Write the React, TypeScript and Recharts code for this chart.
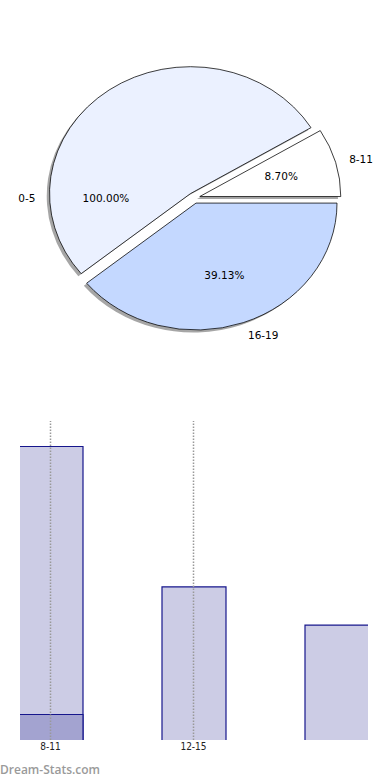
import React from 'react';
import { PieChart, Pie, Cell, BarChart, Bar, XAxis, YAxis, ReferenceLine } from 'recharts';

// ---- pie data ----
const pieCategories = ['8-11', '0-5', '16-19'];
const pieValues = [2, 12, 9];
const piePercentLabels = ['8.70%', '100.00%', '39.13%'];
const pieColors = ['#ffffff', '#ebf1ff', '#c4d8ff'];

// ---- bar data ----
const barCategories = ['8-11', '12-15', '16-19'];
const barTotals = [23, 12, 9];
const barHighlight = [2, 0, 0];
const barTickLabels = ['8-11', '12-15'];
const barDomain: [number, number] = [0, 25];

// ---- rendering config ----
const CX = 194;
const CY = 198;
const R = 141;
const SY = 0.9;
const EXPLODE = 6;
const SHADOW_DX = -2.8;
const SHADOW_DY = 2.8;
const LABEL_ANGLE_OVERRIDE: Record<string, number> = { '0-5': 180 };
const RAD = Math.PI / 180;

const pieData = pieCategories.map((name, i) => ({ name, value: pieValues[i] }));
const total = pieValues.reduce((a, b) => a + b, 0);
const mids: number[] = [];
{
  let acc = 0;
  pieValues.forEach((v) => {
    const start = (acc / total) * 360;
    acc += v;
    const end = (acc / total) * 360;
    mids.push((start + end) / 2);
  });
}
const centers = mids.map((m) => ({
  x: CX + EXPLODE * Math.cos(m * RAD),
  y: CY - EXPLODE * Math.sin(m * RAD),
}));

const barData = barCategories.map((cat, i) => ({
  cat,
  total: barTotals[i],
  highlight: barHighlight[i],
}));

const pieFont = '"DejaVu Sans", sans-serif';

function makeLabel(i: number) {
  return (props: any) => {
    if (props.index !== i) return null;
    const name = pieCategories[i];
    const overridden = LABEL_ANGLE_OVERRIDE[name] !== undefined;
    const a = (overridden ? LABEL_ANGLE_OVERRIDE[name] : mids[i]) * RAD;
    const c = centers[i];
    const baseY = overridden ? CY : c.y;
    const lx = c.x + 1.1 * R * Math.cos(a);
    const ly = baseY - 1.1 * R * Math.sin(a);
    const px = c.x + 0.6 * R * Math.cos(a);
    const py = baseY - 0.6 * R * Math.sin(a);
    const anchor = Math.cos(a) >= 0 ? 'start' : 'end';
    return (
      <g>
        <text
          x={0}
          y={0}
          transform={`translate(${lx} ${ly}) scale(1 ${1 / SY})`}
          textAnchor={anchor}
          dominantBaseline="central"
          fontSize={10.5}
          fontFamily={pieFont}
          fill="#000"
        >
          {name}
        </text>
        <text
          x={0}
          y={0}
          transform={`translate(${px} ${py}) scale(1 ${1 / SY})`}
          textAnchor="middle"
          dominantBaseline="central"
          fontSize={10.5}
          fontFamily={pieFont}
          fill="#000"
        >
          {piePercentLabels[i]}
        </text>
      </g>
    );
  };
}

function BarShape(props: any) {
  const { x, y, width, height, fill } = props;
  if (!height || height <= 0) return null;
  return (
    <g>
      <rect x={x} y={y} width={width} height={height} fill={fill} stroke="none" />
      <path
        d={`M${x},${y + height}V${y}H${x + width}V${y + height}`}
        fill="none"
        stroke="#16168c"
        strokeWidth={1.2}
      />
    </g>
  );
}

function BarTick(props: any) {
  const { x, y, payload } = props;
  if (!barTickLabels.includes(payload.value)) return null;
  return (
    <text
      x={x}
      y={y}
      dy="0.71em"
      textAnchor="middle"
      fontSize={10}
      fontFamily='"Liberation Sans Narrow", "DejaVu Sans Condensed", sans-serif'
      fill="#222"
    >
      {payload.value}
    </text>
  );
}

export default function App() {
  return (
    <div style={{ position: 'absolute', left: 0, top: 0, width: 390, height: 780, background: '#fff', overflow: 'hidden' }}>
      <div
        style={{
          position: 'absolute',
          left: 0,
          top: 0,
          width: 390,
          height: 400,
          transform: `scaleY(${SY})`,
          transformOrigin: `${CX}px ${CY}px`,
        }}
      >
        <PieChart width={390} height={400} margin={{ top: 0, right: 0, bottom: 0, left: 0 }}>
          {pieData.map((_, i) => (
            <Pie
              key={`shadow-${i}`}
              data={pieData}
              dataKey="value"
              nameKey="name"
              cx={centers[i].x + SHADOW_DX}
              cy={centers[i].y + SHADOW_DY}
              outerRadius={R}
              innerRadius={0}
              startAngle={0}
              endAngle={360}
              isAnimationActive={false}
              labelLine={false}
              label={false}
            >
              {pieData.map((__, j) => (
                <Cell
                  key={j}
                  fill={j === i ? '#4d4d4d' : 'none'}
                  fillOpacity={0.5}
                  stroke="none"
                />
              ))}
            </Pie>
          ))}
          {pieData.map((_, i) => (
            <Pie
              key={`slice-${i}`}
              data={pieData}
              dataKey="value"
              nameKey="name"
              cx={centers[i].x}
              cy={centers[i].y}
              outerRadius={R}
              innerRadius={0}
              startAngle={0}
              endAngle={360}
              isAnimationActive={false}
              labelLine={false}
              label={makeLabel(i)}
            >
              {pieData.map((__, j) => (
                <Cell
                  key={j}
                  fill={j === i ? pieColors[j] : 'none'}
                  stroke={j === i ? '#000' : 'none'}
                  strokeWidth={0.8}
                />
              ))}
            </Pie>
          ))}
        </PieChart>
      </div>

      <div style={{ position: 'absolute', left: 20, top: 400, width: 348, height: 362, overflow: 'hidden' }}>
        <div style={{ position: 'absolute', left: -41, top: 0 }}>
          <BarChart
            width={429}
            height={370}
            data={barData}
            margin={{ top: 21, right: 0, bottom: 0, left: 0 }}
            barGap={-64}
            barCategoryGap={0}
          >
            <XAxis
              dataKey="cat"
              axisLine={false}
              tickLine={false}
              tickSize={0}
              tickMargin={3}
              height={30}
              interval={0}
              tick={<BarTick />}
            />
            <YAxis hide domain={barDomain} type="number" allowDataOverflow />
            <Bar dataKey="total" barSize={64} fill="#ccccE5" shape={<BarShape />} isAnimationActive={false} />
            <Bar dataKey="highlight" barSize={64} fill="#a3a3d0" shape={<BarShape />} isAnimationActive={false} />
            {barTickLabels.map((c) => (
              <ReferenceLine key={c} x={c} stroke="#999999" strokeWidth={1.5} strokeDasharray="1.5 1.5" />
            ))}
          </BarChart>
        </div>
      </div>

      <div
        style={{
          position: 'absolute',
          left: 0,
          top: 762,
          fontFamily: '"Open Sans", sans-serif',
          fontWeight: 600,
          fontSize: 12,
          color: '#9a9a9a',
          lineHeight: '16px',
          whiteSpace: 'nowrap',
        }}
      >
        Dream-Stats.com
      </div>
    </div>
  );
}
